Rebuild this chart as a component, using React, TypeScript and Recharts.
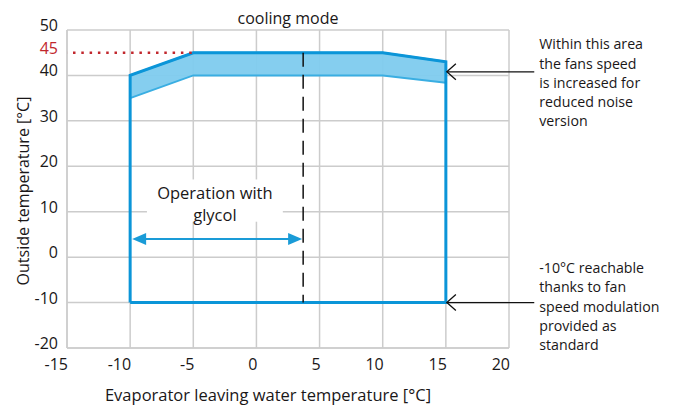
import React from 'react';
import {
  ComposedChart,
  XAxis,
  YAxis,
  CartesianGrid,
  Area,
  Line,
  ReferenceLine,
  ReferenceArea,
} from 'recharts';

const FONT = '"Open Sans", "Noto Sans", sans-serif';
const TEXT = '#1a1718';
const BLUE = '#0b95d8';
const BLUE_FILL = '#7ecbee';
const BLUE_EDGE = '#3aaee2';
const ARROW_BLUE = '#1a9bd7';
const RED = '#c1272d';
const GRID = '#cccccc';

// axes
const xTicks = [-15, -10, -5, 0, 5, 10, 15, 20];
const yTicks = [-20, -10, 0, 10, 20, 30, 40, 45, 50];
const yGridValues = [-20, -10, 0, 10, 20, 30, 40, 50];
const xDomain = [-15, 20];
const yDomain = [-20, 50];
const highlightedTick = 45;

// operating envelope outline (closed polygon)
const envelopeX = [-10, -10, -5, 10, 15, 15, -10];
const envelopeY = [-10, 40, 45, 45, 43, -10, -10];

// reduced-noise band (fans speed increased)
const bandX = [-10, -5, 10, 15];
const bandLow = [35, 40, 40, 38.4];
const bandHigh = [40, 45, 45, 43];

// markers
const maxOutside = 45;
const maxLineEndX = -5;
const glycolLimitX = 3.7;
const glycolArrowY = 4;
const glycolStartX = -10;
const minOutside = -10;
const envelopeRightX = 15;
const calloutEndX = 22;
const noiseCalloutY = 40.8;
const glycolBoxX = [-8.67, 2.09];
const glycolBoxY = [7.8, 17.1];

// texts
const title = 'cooling mode';
const xLabel = 'Evaporator leaving water temperature [°C]';
const yLabel = 'Outside temperature [°C]';
const glycolLines = ['Operation with', 'glycol'];
const noiseLines = ['Within this area', 'the fans speed', 'is increased for', 'reduced noise', 'version'];
const minLines = ['-10°C reachable', 'thanks to fan', 'speed modulation', 'provided as', 'standard'];

const bandData = bandX.map((x, i) => ({ x, band: [bandLow[i], bandHigh[i]] }));
const envelopeData = envelopeX.map((x, i) => ({ x, y: envelopeY[i] }));

const XTick = (props: any) => {
  const { x, y, payload } = props;
  return (
    <text x={x + 1} y={y + 13.5} textAnchor="end" fill={TEXT} fontSize={16} fontFamily={FONT}>
      {payload.value}
    </text>
  );
};

const YTick = (props: any) => {
  const { x, y, payload } = props;
  const hl = payload.value === highlightedTick;
  return (
    <text x={x - 1} y={y + 1} textAnchor="end" fill={hl ? RED : TEXT} fontSize={16} fontFamily={FONT}>
      {payload.value}
    </text>
  );
};

const makeCallout = (lines: string[], firstOffset: number) => (props: any) => {
  const { x1, y1, x2, y2 } = props;
  const xs = Math.min(x1, x2) + 1;
  const xe = Math.max(x1, x2);
  const y = y1;
  return (
    <g>
      <line x1={xs} y1={y} x2={xe} y2={y2} stroke="#111" strokeWidth={1.3} />
      <polyline
        points={`${xs + 9},${y - 8} ${xs},${y} ${xs + 9},${y + 8}`}
        fill="none"
        stroke="#111"
        strokeWidth={1.3}
      />
      <text fontFamily={FONT} fontSize={14.2} fill={TEXT}>
        {lines.map((l, i) => (
          <tspan key={i} x={xe + 5} y={y + firstOffset + i * 19.2}>
            {l}
          </tspan>
        ))}
      </text>
    </g>
  );
};

const GlycolArrow = (props: any) => {
  const { x1, y1, x2 } = props;
  const a = Math.min(x1, x2) + 2;
  const b = Math.max(x1, x2) - 1;
  const y = y1;
  const L = 14;
  const H = 6;
  return (
    <g>
      <line x1={a + L - 2} y1={y} x2={b - L + 2} y2={y} stroke={ARROW_BLUE} strokeWidth={2} />
      <polygon points={`${a},${y} ${a + L},${y - H} ${a + L},${y + H}`} fill={ARROW_BLUE} />
      <polygon points={`${b},${y} ${b - L},${y - H} ${b - L},${y + H}`} fill={ARROW_BLUE} />
    </g>
  );
};

const GlycolBox = (props: any) => {
  const { x, y, width, height } = props;
  const cx = x + width / 2;
  return (
    <g>
      <rect x={x} y={y} width={width} height={height} fill="#ffffff" />
      <text fontFamily={FONT} fontSize={16.5} fill={TEXT} textAnchor="middle">
        <tspan x={cx} y={y + 19.5}>{glycolLines[0]}</tspan>
        <tspan x={cx} y={y + 41.5}>{glycolLines[1]}</tspan>
      </text>
    </g>
  );
};

export default function App() {
  return (
    <div style={{ width: 675, height: 400, position: 'relative' }}>
      <ComposedChart
        width={675}
        height={400}
        data={bandData}
        margin={{ top: 22, right: 174, bottom: 30, left: 0 }}
      >
        <CartesianGrid
          stroke={GRID}
          strokeWidth={1.5}
          horizontalValues={yGridValues}
          verticalValues={xTicks}
        />
        <XAxis
          type="number"
          dataKey="x"
          domain={xDomain}
          ticks={xTicks}
          allowDataOverflow
          height={30}
          axisLine={{ stroke: GRID, strokeWidth: 1.5 }}
          tickLine={false}
          tick={<XTick />}
          interval={0}
          label={{
            content: (p: any) => {
              const vb = p.viewBox;
              return (
                <text
                  x={vb.x + vb.width / 2 - 20}
                  y={vb.y + vb.height + 23}
                  textAnchor="middle"
                  fontFamily={FONT}
                  fontSize={16.5}
                  fill={TEXT}
                >
                  {xLabel}
                </text>
              );
            },
          }}
        />
        <YAxis
          type="number"
          domain={yDomain}
          ticks={yTicks}
          allowDataOverflow
          width={59}
          axisLine={{ stroke: GRID, strokeWidth: 1.5 }}
          tickLine={false}
          tick={<YTick />}
          interval={0}
          label={{
            content: (p: any) => {
              const vb = p.viewBox;
              const cx = vb.x + 21;
              const cy = vb.y + vb.height / 2 + 2;
              return (
                <text
                  x={cx}
                  y={cy}
                  transform={`rotate(-90 ${cx} ${cy})`}
                  textAnchor="middle"
                  fontFamily={FONT}
                  fontSize={16}
                  fill={TEXT}
                >
                  {yLabel}
                </text>
              );
            },
          }}
        />
        <Area
          type="linear"
          dataKey="band"
          fill={BLUE_FILL}
          fillOpacity={0.95}
          stroke={BLUE_EDGE}
          strokeWidth={2}
          dot={false}
          activeDot={false}
          isAnimationActive={false}
        />
        <Line
          data={envelopeData}
          type="linear"
          dataKey="y"
          stroke={BLUE}
          strokeWidth={3}
          dot={false}
          activeDot={false}
          isAnimationActive={false}
        />
        <ReferenceLine
          segment={[
            { x: glycolLimitX, y: maxOutside },
            { x: glycolLimitX, y: minOutside },
          ]}
          stroke="#111"
          strokeWidth={1.5}
          strokeDasharray="14 8"
        />
        <ReferenceLine
          segment={[
            { x: xDomain[0], y: maxOutside },
            { x: maxLineEndX, y: maxOutside },
          ]}
          stroke={RED}
          strokeWidth={2.5}
          strokeDasharray="2.5 5.8"
          strokeDashoffset={2.3}
        />
        <ReferenceArea
          x1={glycolBoxX[0]}
          x2={glycolBoxX[1]}
          y1={glycolBoxY[0]}
          y2={glycolBoxY[1]}
          shape={GlycolBox}
        />
        <ReferenceLine
          segment={[
            { x: glycolStartX, y: glycolArrowY },
            { x: glycolLimitX, y: glycolArrowY },
          ]}
          shape={GlycolArrow}
        />
        <ReferenceLine
          ifOverflow="visible"
          segment={[
            { x: envelopeRightX, y: noiseCalloutY },
            { x: calloutEndX, y: noiseCalloutY },
          ]}
          shape={makeCallout(noiseLines, -22.4)}
        />
        <ReferenceLine
          ifOverflow="visible"
          segment={[
            { x: envelopeRightX, y: minOutside },
            { x: calloutEndX, y: minOutside },
          ]}
          shape={makeCallout(minLines, -29.4)}
        />
      </ComposedChart>
      <div
        style={{
          position: 'absolute',
          left: 0,
          top: 0,
          width: 560,
          textAlign: 'center',
          fontFamily: FONT,
          fontSize: 16,
          color: TEXT,
          lineHeight: '20px',
          pointerEvents: 'none',
        }}
      >
        {title}
      </div>
    </div>
  );
}
